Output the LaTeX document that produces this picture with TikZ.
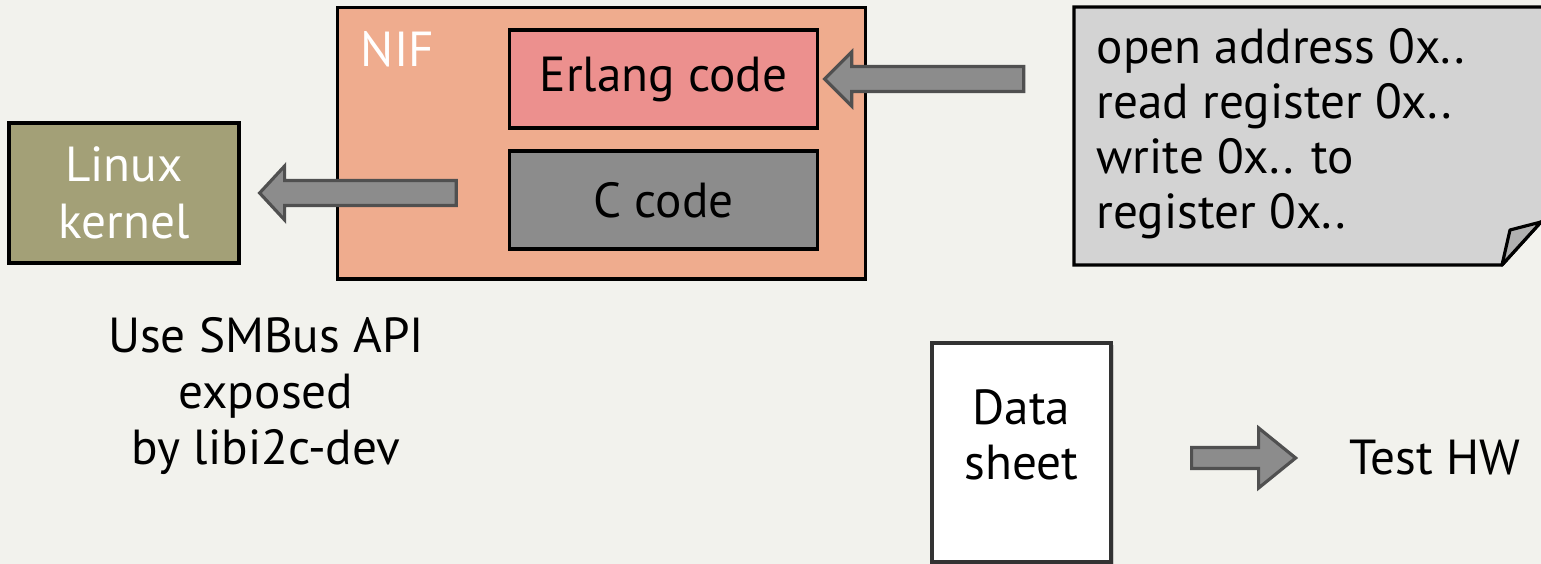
\documentclass[tikz,border=0pt]{standalone}
\usepackage{fontspec}
\setmainfont{PT Sans}
\usetikzlibrary{calc,positioning,backgrounds,shadows}

\definecolor{slidebg}{RGB}{242,242,237}
\definecolor{nifcol}{RGB}{239,172,142}
\definecolor{erlangcol}{RGB}{236,144,142}
\definecolor{ccol}{RGB}{140,140,140}
\definecolor{kernelcol}{RGB}{163,160,119}
\definecolor{notecol}{RGB}{211,211,211}
\definecolor{foldcol}{RGB}{176,176,176}
\definecolor{arrowgray}{RGB}{140,140,140}
\definecolor{arrowedge}{RGB}{80,80,80}

% block arrow: from, to, shaft half width, head half width, head length
\newcommand{\blockarrow}[5]{%
  \coordinate (hb) at ($(#2)!#5!(#1)$);
  \draw[blockarr] ($(#1)!#3!90:(#2)$) -- ($(hb)!#3!-90:(#1)$) -- ($(hb)!#4!-90:(#1)$) -- (#2)
    -- ($(hb)!#4!90:(#1)$) -- ($(hb)!#3!90:(#1)$) -- ($(#1)!#3!-90:(#2)$) -- cycle;}

\begin{document}
\begin{tikzpicture}[x=0.01cm, y=0.01cm,
    every node/.style={font=\fontsize{14}{16}\selectfont},
    box/.style={draw, line width=0.9pt, minimum width=3.07cm, minimum height=0.98cm, inner sep=0pt},
    blockarr/.style={fill=arrowgray, draw=arrowedge, line width=0.9pt, line join=miter}]
  \useasboundingbox (0,0) rectangle (1541,564);
  \begin{scope}[on background layer]
    \fill[slidebg] (0,0) rectangle (1541,564);
    % note sheet with folded corner
    \draw[fill=notecol, line width=0.9pt] (1074,557) -- (1545,557) -- (1545,342) -- (1541,342)
          -- (1502,299) -- (1074,299) -- cycle;
    \draw[fill=foldcol, line width=0.9pt, line join=round] (1502,299) -- (1510,334) -- (1541,342) -- cycle;
  \end{scope}

  % NIF with its two parts
  \node[box, fill=nifcol, minimum width=5.27cm, minimum height=2.71cm] (nif) at (601.5,420.5) {};
  \node[anchor=north west, inner sep=0pt, text=white] (niflabel) at ($(nif.north west)+(24,-24)$) {NIF};
  \node[box, fill=erlangcol] (erlang) at (663.5,485) {Erlang code};
  \node[box, fill=ccol] (ccode) at (663.5,364) {C code};

  \node[box, fill=kernelcol, minimum width=2.3cm, minimum height=1.4cm, text=white, align=center,
        font=\fontsize{14}{16.2}\selectfont] (kernel) at (124,371) {Linux\\kernel};
  \node[align=center, font=\fontsize{14}{15.9}\selectfont] (smbus) at (266,168)
       {Use SMBus API\\exposed\\by libi2c-dev};

  \node[anchor=north west, align=left, inner sep=0pt, font=\fontsize{14}{15.6}\selectfont] (note)
       at (1096,536) {open address 0x..\\read register 0x..\\write 0x.. to\\register 0x..};

  \node[draw=black!80, fill=white, line width=0.9pt, minimum width=1.79cm, minimum height=2.19cm,
        drop shadow={shadow xshift=0.7pt, shadow yshift=-0.7pt, opacity=0.35}] (sheet) at (1021.5,111.5) {};
  \node[align=center, font=\fontsize{14}{15.6}\selectfont] (sheettext) at (1021.5,129) {Data\\sheet};
  \node (testhw) at (1435,106) {Test HW};

  \coordinate (nifout) at ($(nif.west |- kernel.east)+(120,0)$);
  \coordinate (kernin) at ($(kernel.east)+(19,0)$);
  \coordinate (notetail) at ($(erlang.east)+(205,0)$);
  \coordinate (erlangin) at ($(erlang.east)+(6,0)$);
  \coordinate (sheetout) at ($(sheet.east |- testhw)+(79,0)$);
  \coordinate (testin) at ($(sheet.east |- testhw)+(183,0)$);

  \blockarrow{nifout}{kernin}{0.125cm}{0.27cm}{0.25cm}
  \blockarrow{notetail}{erlangin}{0.125cm}{0.27cm}{0.27cm}
  \blockarrow{sheetout}{testin}{0.105cm}{0.3cm}{0.37cm}
\end{tikzpicture}
\end{document}
